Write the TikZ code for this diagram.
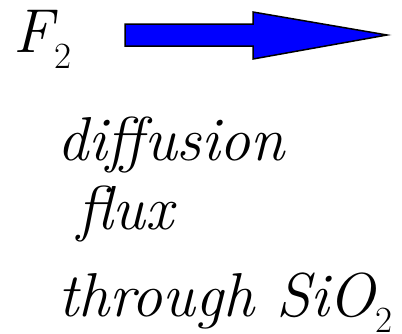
\documentclass[tikz,border=0pt]{standalone}
\usepackage{fontspec}
\newcommand{\lowtwo}{\raisebox{-16pt}{\fontsize{37}{37}\selectfont\upshape 2}}
\begin{document}
\begin{tikzpicture}[x=1pt,y=-1pt,
  lbl/.style={anchor=base west,inner sep=0pt,font=\fontsize{62}{62}\selectfont\itshape},
  flow/.style={draw=black,fill=blue,line width=1.5pt,line join=miter}]
  \useasboundingbox (0,0) rectangle (402,333);
  \node[lbl] (gas) at (13,52) {F\kern2pt\lowtwo};
  \draw[flow] (125,24) -- (253,24) -- (253,12) -- (387,35) -- (253,59) -- (253,46) -- (125,46) -- cycle;
  \node[lbl] (diff) at (57,160) {diffusion};
  \node[lbl] (flux) at (77,229) {flux};
  \node[lbl] (oxide) at (58,316) {through SiO\lowtwo};
\end{tikzpicture}
\end{document}
